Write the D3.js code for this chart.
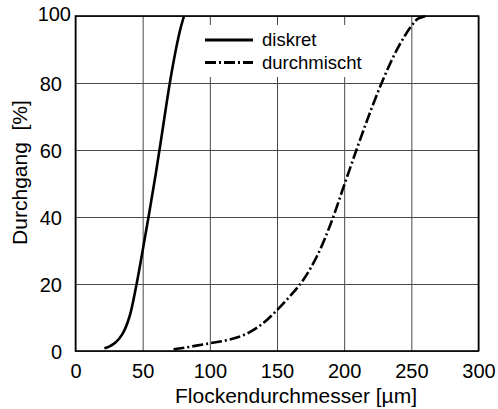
<!DOCTYPE html>
<html>
<head>
<meta charset="utf-8">
<script src="https://cdn.jsdelivr.net/npm/d3@7"></script>
<style>
  html, body { margin: 0; padding: 0; background: #fff; }
  svg text { font-family: "Liberation Sans", Arial, sans-serif; fill: #000; }
</style>
</head>
<body>
<svg id="chart" width="498" height="409"></svg>
<script>
// Flockengrößenverteilung: Durchgang über Flockendurchmesser
const xTicks = [0, 50, 100, 150, 200, 250, 300];
const yTicks = [0, 20, 40, 60, 80, 100];

const diskretX = [21.5, 25, 30, 35, 40, 45, 50, 55, 60, 65, 70, 75, 78, 80.8];
const diskretY = [0.8, 1.3, 2.6, 5.1, 10, 19, 30, 41.5, 53.5, 66.5, 79.5, 90.5, 96, 100];

const durchX = [73, 80, 90, 100, 110, 120, 130, 140, 150, 160, 170, 180, 190, 200, 210, 220, 230, 240, 250, 255, 261];
const durchY = [0.5, 0.9, 1.6, 2.3, 3.0, 4.0, 5.7, 8.4, 12.2, 16.5, 21.5, 28.5, 38, 49.5, 61, 72, 82, 90.5, 97, 99.2, 100];

const seriesNames = ["diskret", "durchmischt"];
const xTitle = "Flockendurchmesser [\u00b5m]";
const yTitle = "Durchgang  [%]";

const svg = d3.select("#chart");
const plotL = 75.5, plotR = 478.5, plotT = 16, plotB = 351;

const x = d3.scaleLinear().domain([0, 300]).range([plotL, plotR]);
const y = d3.scaleLinear().domain([0, 100]).range([plotB, plotT]);

// gridlines + tick labels
const xAxis = svg.append("g")
  .attr("transform", `translate(0,${plotB})`)
  .call(d3.axisBottom(x).tickValues(xTicks).tickSize(-(plotB - plotT)).tickSizeOuter(0).tickPadding(0));
xAxis.select(".domain").remove();
xAxis.selectAll(".tick line").attr("stroke", "#4a4a4a").attr("stroke-width", 1);
xAxis.selectAll(".tick text")
  .attr("y", 27).attr("dy", 0)
  .style("font-size", "20px");

const yAxis = svg.append("g")
  .attr("transform", `translate(${plotL},0)`)
  .call(d3.axisLeft(y).tickValues(yTicks).tickSize(-(plotR - plotL)).tickSizeOuter(0).tickPadding(0));
yAxis.select(".domain").remove();
yAxis.selectAll(".tick line").attr("stroke", "#4a4a4a").attr("stroke-width", 1);
yAxis.selectAll(".tick text")
  .attr("x", -13.5).attr("dy", "0.36em")
  .style("font-size", "20px");
// top label sits a little higher and further right
yAxis.selectAll(".tick text").filter(d => d === 100)
  .attr("x", -4.5).attr("dy", "0.2em");

// white legend background covering the grid
svg.append("rect")
  .attr("x", 200).attr("y", 25).attr("width", 166).attr("height", 52)
  .attr("fill", "#fff");

// frame
svg.append("rect")
  .attr("x", plotL).attr("y", plotT)
  .attr("width", plotR - plotL).attr("height", plotB - plotT)
  .attr("fill", "none").attr("stroke", "#000").attr("stroke-width", 1.6);

const line = d3.line().x(d => x(d[0])).y(d => y(d[1])).curve(d3.curveCatmullRom.alpha(0.5));

const diskret = diskretX.map((v, i) => [v, diskretY[i]]);
const durch = durchX.map((v, i) => [v, durchY[i]]);

const dashDot = "11,3,2,3";

svg.append("path").datum(diskret)
  .attr("d", line).attr("fill", "none")
  .attr("stroke", "#000").attr("stroke-width", 2.6);

svg.append("path").datum(durch)
  .attr("d", line).attr("fill", "none")
  .attr("stroke", "#000").attr("stroke-width", 2.6)
  .attr("stroke-dasharray", dashDot);

// legend
const legend = svg.append("g");
const styles = [null, dashDot];
seriesNames.forEach((name, i) => {
  const ly = 40 + i * 22.5;
  legend.append("line")
    .attr("x1", 205).attr("x2", 253).attr("y1", ly).attr("y2", ly)
    .attr("stroke", "#000").attr("stroke-width", 2.8)
    .attr("stroke-dasharray", styles[i]);
  legend.append("text")
    .attr("x", 262).attr("y", ly).attr("dy", "0.33em")
    .style("font-size", "18.5px")
    .text(name);
});

// axis titles
svg.append("text")
  .attr("x", 296).attr("y", 403)
  .attr("text-anchor", "middle")
  .style("font-size", "21px")
  .text(xTitle);

svg.append("text")
  .attr("transform", "translate(27,172.5) rotate(-90)")
  .attr("text-anchor", "middle")
  .style("font-size", "21px")
  .style("white-space", "pre")
  .text(yTitle);
</script>
</body>
</html>
